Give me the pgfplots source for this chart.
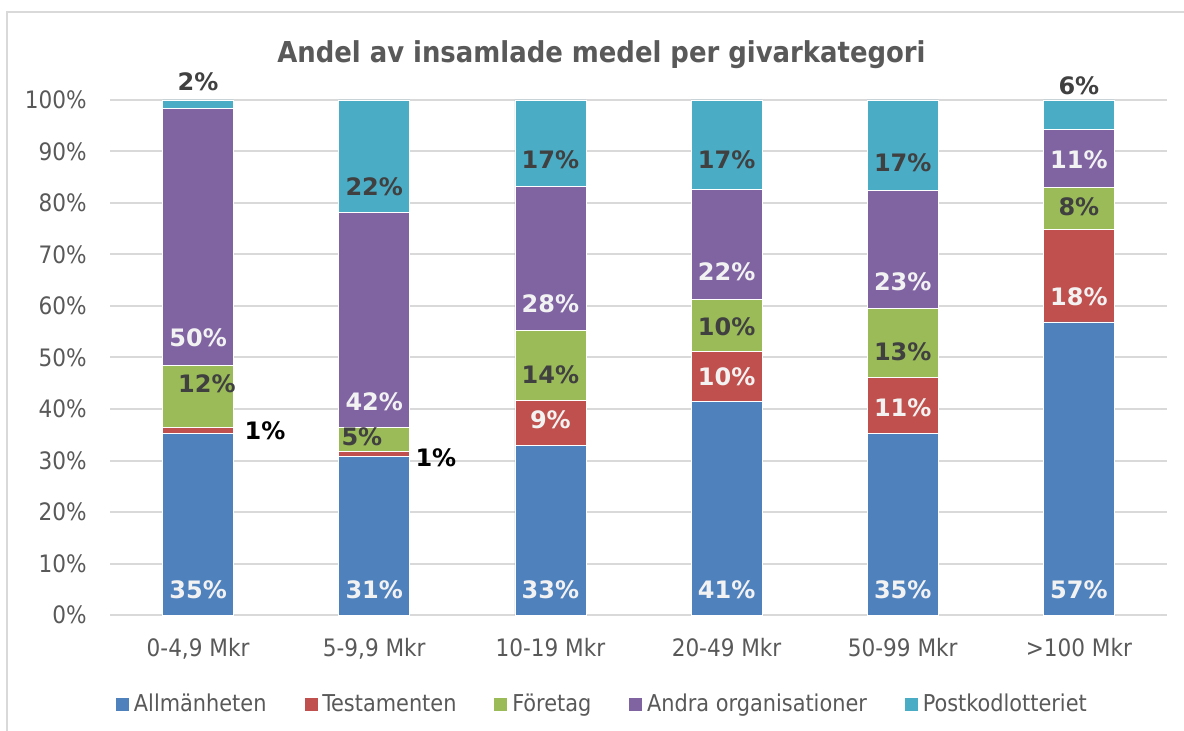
\documentclass[border=0pt]{standalone}
\usepackage{fontspec}
\setmainfont{DejaVu Sans Condensed}
\newfontfamily\lblfont{DejaVu Sans}
\usepackage{pgfplots}
\pgfplotsset{compat=1.18}

\definecolor{cblue}{HTML}{4F81BD}
\definecolor{cred}{HTML}{C0504D}
\definecolor{cgreen}{HTML}{9BBB59}
\definecolor{cpurple}{HTML}{8064A2}
\definecolor{ccyan}{HTML}{4BACC6}
\definecolor{gridgray}{HTML}{D9D9D9}
\definecolor{txtgray}{HTML}{595959}
\definecolor{lbldark}{HTML}{404040}
\definecolor{lbllight}{HTML}{F2F2F2}

\pgfplotsset{
  sq/.style={legend image code/.code={\fill[##1] (0bp,-3.5bp) rectangle (7bp,3.5bp);}},
  frame/.style={
    at={(0,0)}, anchor=south west,
    scale only axis, width=528.5bp, height=257.5bp,
    xmin=-0.5, xmax=5.5, ymin=0, ymax=100,
    enlarge x limits=false, enlarge y limits=false,
  },
  lbl/.style={
    draw=none, mark=none,
    point meta=explicit symbolic,
    nodes near coords={\pgfplotspointmeta\%},
    every node near coord/.append style={anchor=center, inner sep=0pt,
      font=\lblfont\bfseries\fontsize{12bp}{14bp}\selectfont, text=#1},
  },
}

\begin{document}
\begin{tikzpicture}
\begin{axis}[
  frame,
  ybar stacked, bar width=35.5bp,
  xtick={0,...,5},
  xticklabels={{0-4,9 Mkr},{5-9,9 Mkr},{10-19 Mkr},{20-49 Mkr},{50-99 Mkr},{>100 Mkr}},
  ytick={0,10,...,100},
  yticklabels={0\%,10\%,20\%,30\%,40\%,50\%,60\%,70\%,80\%,90\%,100\%},
  ymajorgrids, grid style={draw=gridgray, line width=1bp},
  axis line style={draw=none}, major tick length=0pt,
  tick label style={font=\fontsize{12bp}{14bp}\selectfont, text=txtgray},
  xticklabel style={anchor=base, yshift=-20.5bp},
  yticklabel style={anchor=east, inner sep=0pt, xshift=-11.5bp},
  title={Andel av insamlade medel per givarkategori},
  title style={at={(0.465,1.0505)}, anchor=base, text=txtgray,
    font=\bfseries\fontsize{14.4bp}{17bp}\selectfont},
  legend style={at={(0.4664,-0.173)}, anchor=center, draw=none,
    legend columns=-1, font=\fontsize{11.6bp}{14bp}\selectfont, text=txtgray,
    /tikz/every even column/.append style={column sep=16.5bp},
    nodes={inner sep=2bp}},
]
\addplot[fill=cblue, draw=white, line width=0.4bp, sq] coordinates
  {(0,35.3) (1,30.7) (2,33.0) (3,41.4) (4,35.3) (5,56.9)};
\addplot[fill=cred, draw=white, line width=0.4bp, sq] coordinates
  {(0,1.2) (1,1.0) (2,8.6) (3,9.7) (4,10.9) (5,17.9)};
\addplot[fill=cgreen, draw=white, line width=0.4bp, sq] coordinates
  {(0,12.0) (1,4.8) (2,13.7) (3,10.1) (4,13.4) (5,8.3)};
\addplot[fill=cpurple, draw=white, line width=0.4bp, sq] coordinates
  {(0,49.9) (1,41.6) (2,28.0) (3,21.5) (4,22.9) (5,11.1)};
\addplot[fill=ccyan, draw=white, line width=0.4bp, sq] coordinates
  {(0,1.6) (1,21.9) (2,16.7) (3,17.3) (4,17.5) (5,5.8)};
\legend{Allmänheten,Testamenten,Företag,Andra organisationer,Postkodlotteriet}
\end{axis}

% data labels, placed where the reference puts them
\begin{axis}[frame, hide axis, clip=false]
\addplot[lbl=lbllight] coordinates {
  (0,4.85) [35] (1,4.85) [31] (2,4.85) [33] (3,4.85) [41] (4,4.85) [35] (5,4.85) [57]
  (2,37.9) [9] (3,46.2) [10] (4,40.2) [11] (5,61.7) [18]
  (0,53.8) [50] (1,41.4) [42] (2,60.4) [28] (3,66.6) [22] (4,64.7) [23] (5,88.3) [11]
};
\addplot[lbl=lbldark] coordinates {
  (0.05,44.9) [12] (0.93,34.6) [5] (2,46.6) [14] (3,55.9) [10] (4,51.1) [13] (5,79.2) [8]
  (1,83.1) [22] (2,88.4) [17] (3,88.4) [17] (4,87.9) [17]
  (0,103.5) [2] (5,102.7) [6]
};
\addplot[lbl=black] coordinates {(0.38,35.7) [1] (1.35,30.5) [1]};
\end{axis}

\draw[gridgray, line width=1bp] (-51.25bp,-58bp) -- (-51.25bp,301.5bp) -- (537bp,301.5bp);
\pgfresetboundingbox
\path (-55bp,-58bp) rectangle (537bp,307.5bp);
\end{tikzpicture}
\end{document}
